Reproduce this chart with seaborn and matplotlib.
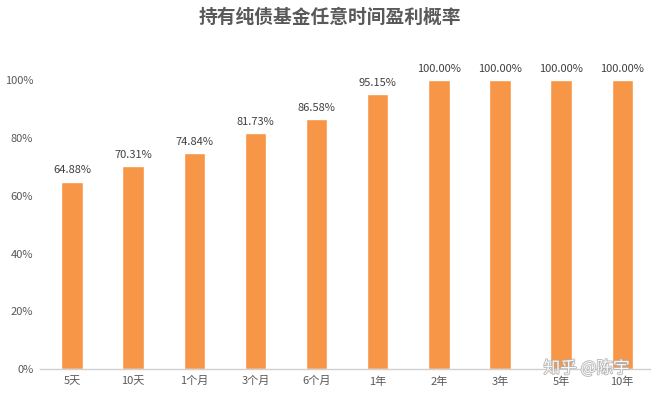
import pandas as pd
import numpy as np
import seaborn as sns
import matplotlib.pyplot as plt
import matplotlib.patheffects as pe
from matplotlib.ticker import PercentFormatter

periods = ['5天', '10天', '1个月', '3个月', '6个月', '1年', '2年', '3年', '5年', '10年']
win_rate = [64.88, 70.31, 74.84, 81.73, 86.58, 95.15, 100.00, 100.00, 100.00, 100.00]

df = pd.DataFrame({'period': periods, 'rate': win_rate})

sns.set_style('white')
plt.rcParams['font.family'] = ['Noto Sans CJK SC', 'DejaVu Sans']

fig = plt.figure(figsize=(6.59, 3.97), dpi=100)
ax = fig.add_axes([0.061, 0.07, 0.925, 0.728])

sns.barplot(x='period', y='rate', data=df, color='#F79646', width=0.35,
            saturation=1, ax=ax)

# value labels above bars
for i, v in enumerate(df['rate']):
    ax.text(i, v + 2.2, '{:.2f}%'.format(v), ha='center', va='bottom',
            fontsize=8, color='#404040', clip_on=False)

ax.set_ylim(0, 100)
ax.set_yticks(np.arange(0, 101, 20))
ax.yaxis.set_major_formatter(PercentFormatter(decimals=0))
ax.set_xlim(-0.52, 9.45)
ax.set_xlabel('')
ax.set_ylabel('')
ax.tick_params(axis='both', labelsize=8, colors='#595959', length=0, pad=5)
for s in ['top', 'right', 'left']:
    ax.spines[s].set_visible(False)
ax.spines['bottom'].set_color('#d0d0d0')
ax.spines['bottom'].set_linewidth(1)

fig.text(0.5, 0.955, '持有纯债基金任意时间盈利概率', ha='center', va='center',
         fontsize=13.5, fontweight='bold', color='#595959')

# watermark
fig.text(0.89, 0.072, '知乎 @陈宇', ha='center', va='center', fontsize=12,
         color='white', alpha=0.9,
         path_effects=[pe.withStroke(linewidth=1.2, foreground='#b0b0b0')])

fig.savefig('out.png', dpi=100)
